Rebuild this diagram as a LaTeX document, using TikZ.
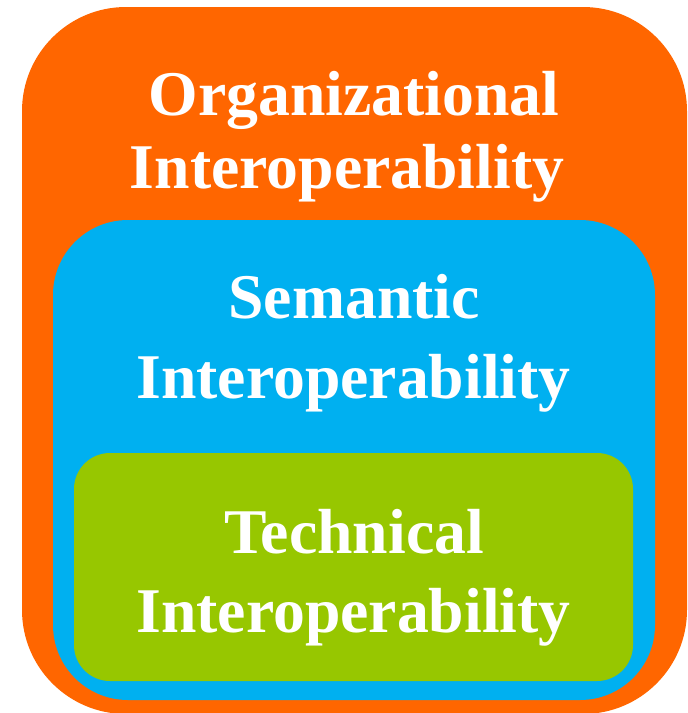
\documentclass[tikz,border=0pt]{standalone}
\usepackage{fontspec}
\setmainfont{Liberation Serif}
\usepackage{tikz}
\usetikzlibrary{positioning,shapes}
\definecolor{OrgOrange}{HTML}{FF6600}
\definecolor{SemBlue}{HTML}{00B0F0}
\definecolor{TechGreen}{HTML}{97C700}
\tikzstyle{LayerNode}=[rectangle, draw=none, inner sep=0pt, outer sep=0pt]
\tikzstyle{TitleNode}=[anchor=base, text=white, inner sep=0pt, font=\fontsize{63.7}{75}\selectfont\bfseries]

\begin{document}
\begin{tikzpicture}[x=1pt, y=-1pt]
    \useasboundingbox (0,0) rectangle (688,713);
    \clip (0,0) rectangle (688,713);

    \node (org) [LayerNode, fill=OrgOrange, rounded corners=104pt, minimum width=665pt, minimum height=707pt] at (354.5,360.5) {};
    \node (sem) [LayerNode, fill=SemBlue, rounded corners=75pt, minimum width=602pt, minimum height=480pt] at (354,460) {};
    \node (tech) [LayerNode, fill=TechGreen, rounded corners=36pt, minimum width=559pt, minimum height=228pt] at (353.5,567) {};

    \node (orgA) [TitleNode] at (354,115) {Organizational};
    \node (orgB) [TitleNode] at (347,188) {Interoperability};
    \node (semA) [TitleNode] at (354,318) {Semantic};
    \node (semB) [TitleNode] at (353.5,398) {Interoperability};
    \node (techA) [TitleNode] at (354,553) {Technical};
    \node (techB) [TitleNode] at (353.5,632) {Interoperability};
\end{tikzpicture}
\end{document}
